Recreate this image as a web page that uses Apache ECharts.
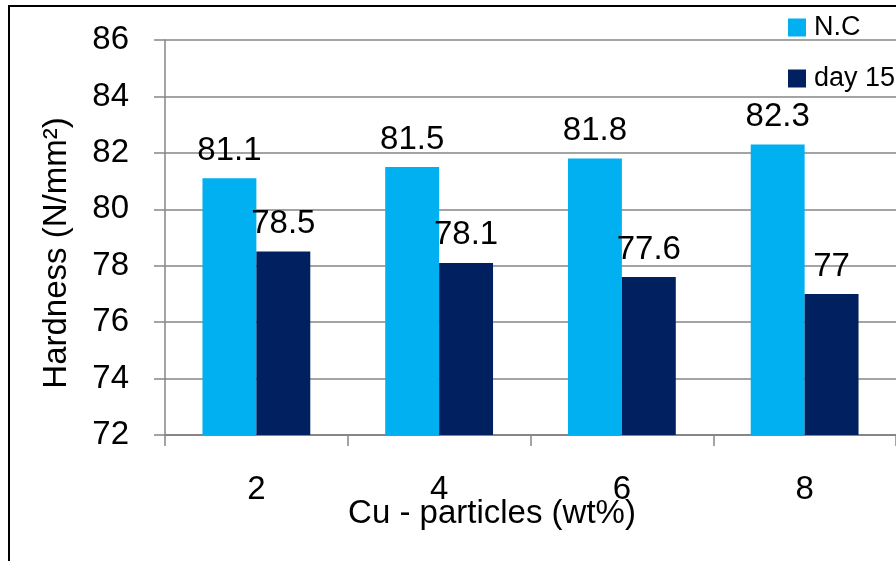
<!DOCTYPE html>
<html>
<head>
<meta charset="utf-8">
<script src="https://cdn.jsdelivr.net/npm/echarts@6/dist/echarts.min.js"></script>
<style>
  html, body { margin: 0; padding: 0; background: #fff; }
  #chart { width: 896px; height: 561px; }
</style>
</head>
<body>
<div id="chart"></div>
<script>
// Hardness of Cu-particle composites: as made (N.C) vs. after 15 days
const categories = ['2', '4', '6', '8'];
const seriesNames = ['N.C', 'day 15'];
const ncValues = [81.1, 81.5, 81.8, 82.3];
const day15Values = [78.5, 78.1, 77.6, 77];
const yTicks = { min: 72, max: 86, step: 2 };

const FONT = '"Liberation Sans", Arial, sans-serif';

const chart = echarts.init(document.getElementById('chart'), null, { renderer: 'canvas' });

const labelStyle = {
  show: true,
  position: 'top',
  distance: 11,
  fontFamily: FONT,
  fontSize: 33,
  color: '#000'
};

chart.setOption({
  animation: false,
  backgroundColor: '#fff',
  grid: { left: 165, top: 40, right: -5, bottom: 126, containLabel: false },
  legend: {
    orient: 'vertical',
    left: 783,
    top: 9,
    itemWidth: 18,
    itemHeight: 18,
    itemGap: 24,
    icon: 'rect',
    data: seriesNames,
    textStyle: {
      fontFamily: FONT,
      fontSize: 27,
      lineHeight: 27,
      color: '#000',
      padding: [0, 0, 0, 3]
    }
  },
  xAxis: {
    type: 'category',
    data: categories,
    boundaryGap: true,
    axisLine: { show: true, lineStyle: { color: '#868686', width: 2 } },
    axisTick: { show: true, length: 11, lineStyle: { color: '#868686', width: 1.5 } },
    axisLabel: { margin: 38, fontFamily: FONT, fontSize: 33, color: '#000' },
    splitLine: { show: false }
  },
  yAxis: {
    type: 'value',
    min: yTicks.min,
    max: yTicks.max,
    interval: yTicks.step,
    axisLine: { show: true, lineStyle: { color: '#868686', width: 1.5 } },
    axisTick: { show: true, length: 11, lineStyle: { color: '#868686', width: 1.5 } },
    axisLabel: { margin: 36, fontFamily: FONT, fontSize: 33, color: '#000' },
    splitLine: { show: true, lineStyle: { color: '#868686', width: 1.5 } }
  },
  series: [
    {
      name: seriesNames[0],
      type: 'bar',
      data: ncValues,
      barGap: '0%',
      barCategoryGap: '41%',
      itemStyle: { color: '#00B0F0' },
      label: labelStyle
    },
    {
      name: seriesNames[1],
      type: 'bar',
      data: day15Values,
      itemStyle: { color: '#002060' },
      label: labelStyle
    }
  ],
  graphic: [
    {
      // outer chart frame
      type: 'rect',
      shape: { x: 9, y: 6, width: 1000, height: 1000 },
      style: { fill: 'none', stroke: '#000', lineWidth: 2 },
      silent: true,
      z: 100
    },
    {
      type: 'text',
      x: 57,
      y: 253,
      rotation: Math.PI / 2,
      style: {
        text: 'Hardness (N/mm²)',
        fontFamily: FONT,
        fontSize: 33,
        fill: '#000',
        align: 'center',
        verticalAlign: 'middle'
      }
    },
    {
      type: 'text',
      x: 492,
      y: 514,
      style: {
        text: 'Cu - particles (wt%)',
        fontFamily: FONT,
        fontSize: 33,
        fill: '#000',
        align: 'center',
        verticalAlign: 'middle'
      }
    }
  ]
});
</script>
</body>
</html>
